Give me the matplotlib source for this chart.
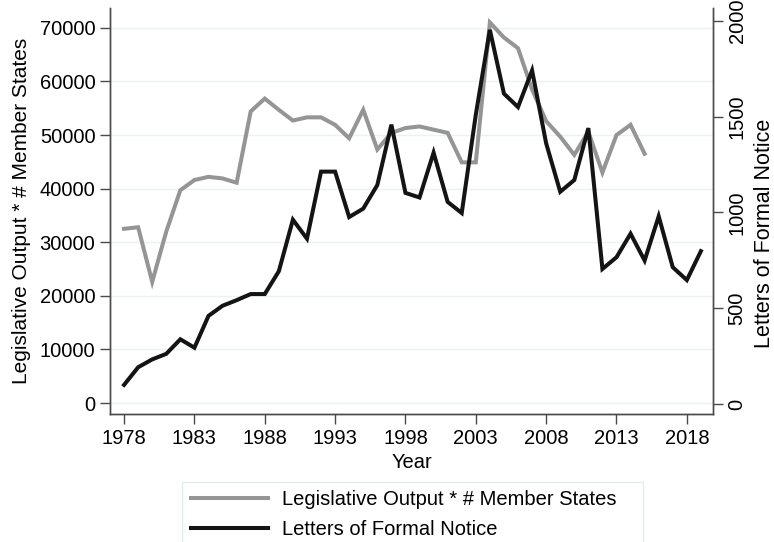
import numpy as np
import matplotlib
matplotlib.use("Agg")
from matplotlib import pyplot as plt
from matplotlib.patches import Rectangle

plt.rcParams['font.family'] = ['Liberation Sans', 'DejaVu Sans']

# Data
leg_years = list(range(1978, 2016))
leg_output = [32500, 32800, 22600, 32000, 39700, 41600, 42200, 41900, 41100, 54400,
              56800, 54700, 52700, 53300, 53300, 51900, 49400, 54700, 47300, 50400,
              51300, 51600, 51000, 50400, 44900, 44900, 71000, 68200, 66200, 58500,
              52600, 49700, 46300, 50600, 43000, 50000, 51900, 46500]

lfn_years = list(range(1978, 2020))
lfn = [100, 192, 233, 262, 338, 294, 460, 513, 542, 574,
       574, 693, 962, 863, 1213, 1213, 976, 1020, 1143, 1458,
       1102, 1078, 1312, 1055, 997, 1510, 1953, 1620, 1550, 1741,
       1361, 1108, 1169, 1440, 705, 766, 889, 749, 980, 714,
       647, 798]

x_ticks = list(range(1978, 2019, 5))
left_ticks = list(range(0, 70001, 10000))
right_ticks = [0, 500, 1000, 1500, 2000]

W, H = 774, 542
fig = plt.figure(figsize=(W / 100, H / 100), dpi=100)
ax = fig.add_axes([110 / W, 128 / H, 603 / W, 406 / H])
ax2 = ax.twinx()

grid_col = '#eaf2f3'
axis_col = '#4a4a4a'

for t in left_ticks:
    ax.axhline(t, color=grid_col, lw=1.0, zorder=0)

ax.plot(leg_years, leg_output, color='#959595', lw=2.9, solid_joinstyle='miter',
        label='Legislative Output * # Member States', zorder=2)
ax2.plot(lfn_years, lfn, color='#141414', lw=2.9, solid_joinstyle='miter',
         label='Letters of Formal Notice', zorder=3)

ax.set_xlim(1977.0, 2019.86)
ax.set_ylim(-2052, 73700)
ax2.set_ylim(-52, 2067)

ax.set_xticks(x_ticks)
ax.set_yticks(left_ticks)
ax2.set_yticks(right_ticks)

fs = 14.5
for a in (ax, ax2):
    for s in a.spines.values():
        s.set_color(axis_col)
        s.set_linewidth(1.0)
    a.spines['top'].set_visible(False)
    a.tick_params(colors=axis_col, width=1.0, length=7, labelsize=fs, labelcolor='black')
ax2.tick_params(axis='y', labelrotation=90)
for lab in ax2.get_yticklabels():
    lab.set_va('center')

ax.set_xlabel('Year', fontsize=fs, labelpad=4)
ax.set_ylabel('Legislative Output * # Member States', fontsize=15, labelpad=6)
ax2.set_ylabel('Letters of Formal Notice', fontsize=15.5, labelpad=5)
ax2.yaxis.label.set_y(0.445)

# legend box below the plot
fig.patches.append(Rectangle((182 / W, -0.05), (643 - 182) / W, 0.05 + 60 / H,
                             transform=fig.transFigure, facecolor='white',
                             edgecolor='#e3eced', lw=1.0))
h1, l1 = ax.get_legend_handles_labels()
h2, l2 = ax2.get_legend_handles_labels()
fig.legend(h1 + h2, l1 + l2, loc='upper left', bbox_to_anchor=(191 / W, 1 - 490 / H),
           frameon=False, fontsize=fs, handlelength=3.8, handletextpad=0.7,
           labelspacing=0.55, borderpad=0, borderaxespad=0)

fig.savefig('out.png', dpi=100)
